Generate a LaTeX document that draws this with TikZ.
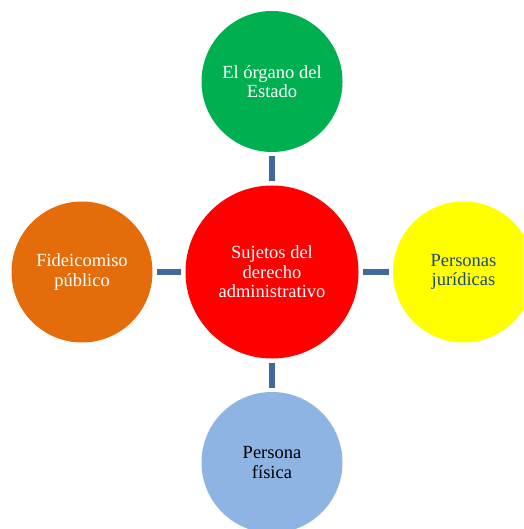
\documentclass[tikz,border=0pt]{standalone}
\usepackage{fontspec}
\setmainfont{Liberation Serif}
\definecolor{cgreen}{HTML}{00B050}
\definecolor{corange}{HTML}{E46C0A}
\definecolor{cyellow}{HTML}{FFFF00}
\definecolor{cblue}{HTML}{8EB4E3}
\definecolor{cred}{HTML}{FF0000}
\definecolor{clink}{HTML}{41689C}
\definecolor{cdark}{HTML}{1F497D}
\tikzset{
  bubble/.style={circle, inner sep=0pt, minimum size=141pt, align=center,
    font=\fontsize{18.5}{19.5}\selectfont},
  link/.style={draw=clink, line width=6pt, shorten >=4pt, shorten <=4pt}
}
\begin{document}
\begin{tikzpicture}[x=1pt,y=-1pt]
\clip (0,0) rectangle (523,529);
\node[bubble, fill=cred, minimum size=173pt, text=white] (c) at (272,272) {Sujetos del\\derecho\\administrativo};
\node[bubble, fill=cgreen, text=white] (t) at (272,81.5) {El órgano del\\Estado};
\node[bubble, fill=corange, text=white] (l) at (82,272) {Fideicomiso\\público};
\node[bubble, fill=cyellow, text=cdark] (r) at (463.5,272) {Personas\\jurídicas};
\node[bubble, fill=cblue, text=black] (b) at (272,462.5) {Persona\\física};
\draw[link] (c) -- (t);
\draw[link] (c) -- (l);
\draw[link] (c) -- (r);
\draw[link] (c) -- (b);
\end{tikzpicture}
\end{document}
